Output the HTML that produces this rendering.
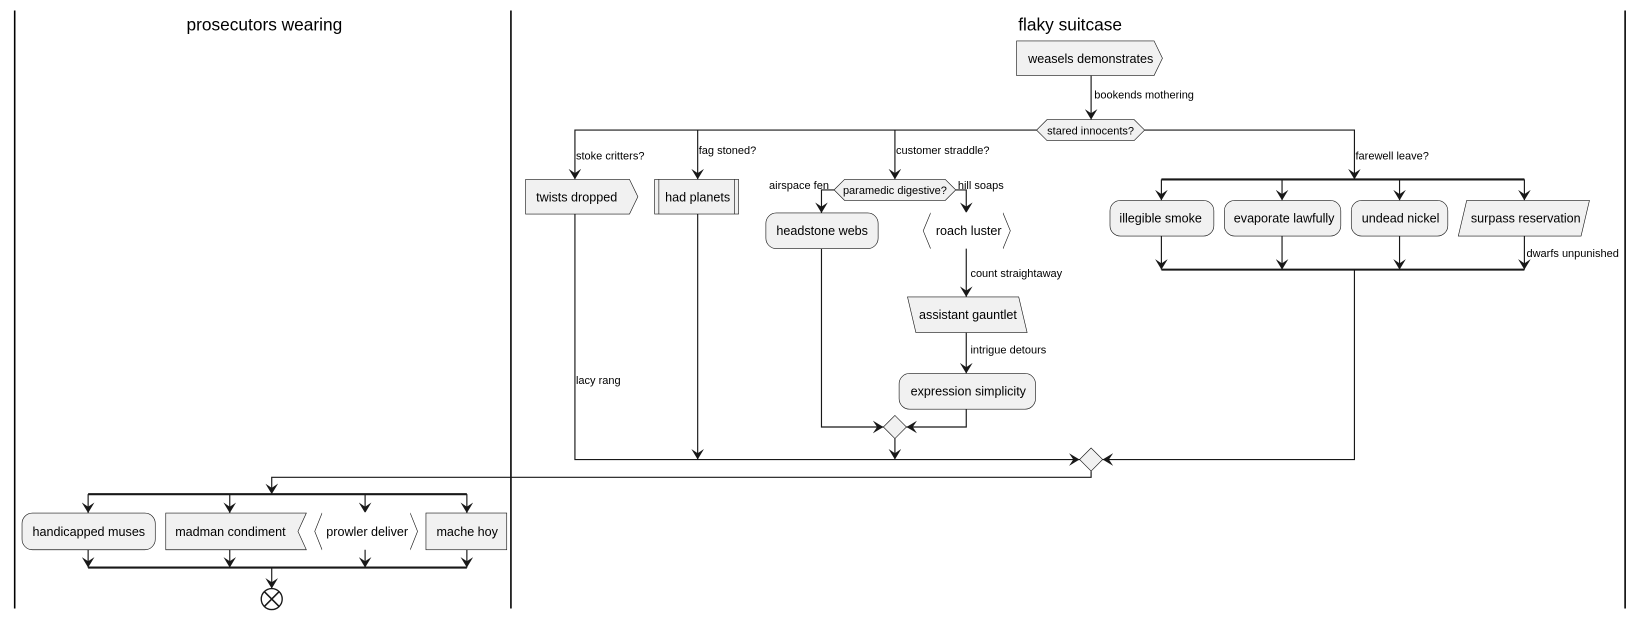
<!DOCTYPE html>
<html><head><meta charset="utf-8"><style>
html,body{margin:0;padding:0;background:#fff;}
svg{display:block;}
text{font-family:"Liberation Sans",sans-serif;fill:#000;}
.t{font-size:12px;}
.s{font-size:10.5px;}
.n{fill:#f1f1f1;stroke:#181818;stroke-width:0.6;}
.w{fill:#fff;stroke:#181818;stroke-width:0.6;}
.l{stroke:#181818;stroke-width:1.1;fill:none;}
.b{stroke:#181818;stroke-width:2;fill:none;}
</style></head><body>
<svg width="1644" height="619" viewBox="0 0 1567 590" preserveAspectRatio="xMinYMin meet" xmlns="http://www.w3.org/2000/svg">
<defs>
<marker id="a" viewBox="0 0 10 12" refX="10" refY="6" markerWidth="10" markerHeight="12" markerUnits="userSpaceOnUse" orient="auto">
<path d="M0,0 L10,6 L0,12 L4,6 Z" fill="#181818"/></marker>
</defs>
<!-- lanes -->
<line x1="14" y1="10" x2="14" y2="580" stroke="#000" stroke-width="1.5"/>
<line x1="487" y1="10" x2="487" y2="580" stroke="#000" stroke-width="1.5"/>
<line x1="1549" y1="10" x2="1549" y2="580" stroke="#000" stroke-width="1.5"/>
<text x="252" y="29" font-size="16.5" text-anchor="middle">prosecutors wearing</text>
<text x="1020" y="29" font-size="16.5" text-anchor="middle">flaky suitcase</text>

<!-- weasels -->
<path class="n" d="M969,39 H1100 L1108,55.5 L1100,72 H969 Z"/>
<text class="t" x="980" y="60">weasels demonstrates</text>
<path class="l" d="M1040,72 V114" marker-end="url(#a)"/>
<text class="s" x="1043" y="94">bookends mothering</text>
<path class="n" d="M988,124 L998,114 H1081 L1091,124 L1081,134 H998 Z"/>
<text class="s" x="1039.5" y="128" text-anchor="middle">stared innocents?</text>

<!-- branches -->
<path class="l" d="M988,124 H548 V171" marker-end="url(#a)"/>
<path class="l" d="M665,124 V171" marker-end="url(#a)"/>
<path class="l" d="M853,124 V171" marker-end="url(#a)"/>
<path class="l" d="M1091,124 H1291 V171" marker-end="url(#a)"/>
<text class="s" x="549" y="152">stoke critters?</text>
<text class="s" x="666" y="147">fag stoned?</text>
<text class="s" x="854" y="147">customer straddle?</text>
<text class="s" x="1292" y="152">farewell leave?</text>

<path class="n" d="M501,171 H600 L608,187.5 L600,204 H501 Z"/>
<text class="t" x="511" y="192">twists dropped</text>
<rect class="n" x="624" y="171" width="80" height="33"/>
<line x1="628" y1="171" x2="628" y2="204" stroke="#181818" stroke-width="0.6"/>
<line x1="700" y1="171" x2="700" y2="204" stroke="#181818" stroke-width="0.6"/>
<text class="t" x="634" y="192">had planets</text>

<!-- paramedic -->
<path class="n" d="M795,181 L805,171 H901 L911,181 L901,191 H805 Z"/>
<text class="s" x="853" y="185" text-anchor="middle">paramedic digestive?</text>
<text class="s" x="733" y="180">airspace fen</text>
<text class="s" x="913" y="180">hill soaps</text>
<path class="l" d="M795,181 H783 V203" marker-end="url(#a)"/>
<path class="l" d="M911,181 H921 V203" marker-end="url(#a)"/>
<rect class="n" x="730" y="203" width="107" height="34" rx="10"/>
<text class="t" x="740" y="224">headstone webs</text>
<path class="w" d="M887,203 L880,220 L887,237 H956 L963,220 L956,203 Z"/>
<path d="M887,203 H956 M887,237 H956" stroke="#fff" stroke-width="1.5"/>
<text class="t" x="892" y="224">roach luster</text>
<path class="l" d="M921,237 V283" marker-end="url(#a)"/>
<text class="s" x="925" y="264">count straightaway</text>
<path class="n" d="M865,283 H971 L979,317 H873 Z"/>
<text class="t" x="876" y="304">assistant gauntlet</text>
<path class="l" d="M921,317 V356" marker-end="url(#a)"/>
<text class="s" x="925" y="337">intrigue detours</text>
<rect class="n" x="857" y="356" width="130" height="34" rx="10"/>
<text class="t" x="868" y="377">expression simplicity</text>
<path class="l" d="M783,237 V407 H842" marker-end="url(#a)"/>
<path class="l" d="M921,390 V407 H864" marker-end="url(#a)"/>
<path class="n" d="M853,396 L864,407 L853,418 L842,407 Z"/>
<path class="l" d="M853,418 V438" marker-end="url(#a)"/>

<!-- right fork -->
<line class="b" x1="1107" y1="171" x2="1453" y2="171"/>
<path class="l" d="M1107,171 V191" marker-end="url(#a)"/>
<path class="l" d="M1222,171 V191" marker-end="url(#a)"/>
<path class="l" d="M1334,171 V191" marker-end="url(#a)"/>
<path class="l" d="M1453,171 V191" marker-end="url(#a)"/>
<rect class="n" x="1058" y="191" width="99" height="34" rx="10"/>
<text class="t" x="1067" y="212">illegible smoke</text>
<rect class="n" x="1167" y="191" width="111" height="34" rx="10"/>
<text class="t" x="1176" y="212">evaporate lawfully</text>
<rect class="n" x="1288" y="191" width="92" height="34" rx="10"/>
<text class="t" x="1298" y="212">undead nickel</text>
<path class="n" d="M1398,191 H1515 L1507,225 H1390 Z"/>
<text class="t" x="1402" y="212">surpass reservation</text>
<path class="l" d="M1107,225 V257" marker-end="url(#a)"/>
<path class="l" d="M1222,225 V257" marker-end="url(#a)"/>
<path class="l" d="M1334,225 V257" marker-end="url(#a)"/>
<path class="l" d="M1453,225 V257" marker-end="url(#a)"/>
<text class="s" x="1455" y="245">dwarfs unpunished</text>
<line class="b" x1="1107" y1="257" x2="1453" y2="257"/>

<!-- big merge -->
<path class="l" d="M548,204 V438 H1029" marker-end="url(#a)"/>
<text class="s" x="549" y="366">lacy rang</text>
<path class="l" d="M665,204 V438" marker-end="url(#a)"/>
<path class="l" d="M1291,257 V438 H1051" marker-end="url(#a)"/>
<path class="n" d="M1040,427 L1051,438 L1040,449 L1029,438 Z"/>
<path class="l" d="M1040,449 V455 H259 V471" marker-end="url(#a)"/>

<!-- lower fork -->
<line class="b" x1="84" y1="471" x2="445" y2="471"/>
<path class="l" d="M84,471 V489" marker-end="url(#a)"/>
<path class="l" d="M219,471 V489" marker-end="url(#a)"/>
<path class="l" d="M348,471 V489" marker-end="url(#a)"/>
<path class="l" d="M445,471 V489" marker-end="url(#a)"/>
<rect class="n" x="21" y="489" width="127" height="35" rx="10"/>
<text class="t" x="31" y="511">handicapped muses</text>
<path class="n" d="M158,489 H292 L284,506.5 L292,524 H158 Z"/>
<text class="t" x="167" y="511">madman condiment</text>
<path class="w" d="M307,489 L300,506.5 L307,524 H391 L398,506.5 L391,489 Z"/>
<path d="M307,489 H391 M307,524 H391" stroke="#fff" stroke-width="1.5"/>
<text class="t" x="311" y="511">prowler deliver</text>
<rect class="n" x="406" y="489" width="77" height="35"/>
<text class="t" x="416" y="511">mache hoy</text>
<path class="l" d="M84,524 V541" marker-end="url(#a)"/>
<path class="l" d="M219,524 V541" marker-end="url(#a)"/>
<path class="l" d="M348,524 V541" marker-end="url(#a)"/>
<path class="l" d="M445,524 V541" marker-end="url(#a)"/>
<line class="b" x1="84" y1="541" x2="445" y2="541"/>
<path class="l" d="M259,541 V561" marker-end="url(#a)"/>
<circle cx="259" cy="571" r="10" fill="#fff" stroke="#181818" stroke-width="1.3"/>
<path d="M252,564 L266,578 M266,564 L252,578" stroke="#181818" stroke-width="1.5"/>
</svg>
</body></html>
